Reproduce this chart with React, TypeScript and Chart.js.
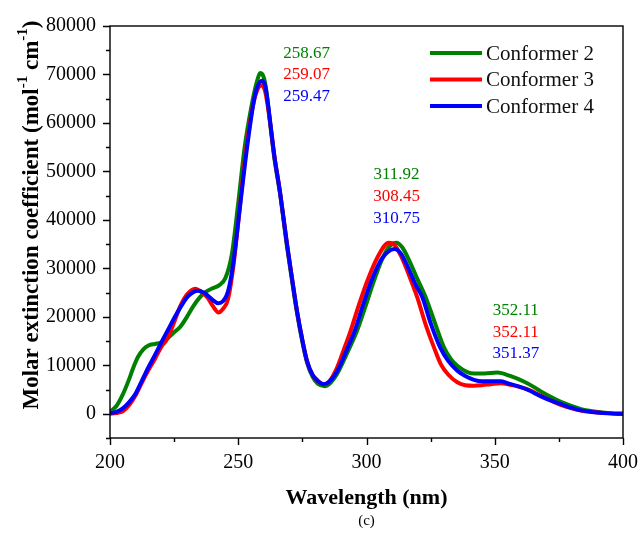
import React, { useEffect, useRef } from "react";
import { Chart, registerables } from "chart.js";

Chart.register(...registerables);

// ---------- data ----------
const seriesLabels = ["Conformer 2", "Conformer 3", "Conformer 4"];
const seriesColors = ["#008000", "#ff0000", "#0000ff"];

const wavelength2 = [200, 202.5, 205, 207.5, 209, 211, 213, 215, 217.5, 220, 222.5, 225, 227.5, 230, 232.5, 235, 237.5, 240, 242.5, 245, 247.5, 250, 252.5, 255, 257, 258.7, 260, 261, 262.5, 264, 266.4, 269, 271, 272.9, 275, 276.8, 279, 281, 283.7, 286, 288.5, 292, 296.3, 299.5, 302.9, 306, 309, 311.7, 314, 316.5, 319.5, 323.1, 326.5, 330.2, 333, 335.4, 339.3, 342, 346, 351, 356, 361.5, 365, 368, 371, 374.5, 378, 381, 384, 387.5, 392, 396, 400];
const epsilon2 = [400, 1600, 4000, 7200, 9400, 11800, 13300, 14100, 14400, 14700, 15600, 16800, 18000, 20000, 22200, 24000, 25200, 25900, 26500, 28000, 32900, 43500, 55000, 63000, 68000, 70300, 69300, 66500, 59500, 53000, 45000, 34500, 27300, 20800, 14800, 10600, 7600, 6200, 5700, 6400, 8200, 12000, 17100, 22000, 27400, 31800, 34600, 35300, 34300, 31800, 28200, 24000, 19000, 13700, 11200, 9900, 8600, 8300, 8300, 8500, 7800, 6600, 5600, 4600, 3700, 2800, 2000, 1400, 900, 550, 250, 80, 0];

const wavelength3 = [200, 202.5, 205, 207.5, 210, 212.5, 215, 217.5, 220, 222.5, 225, 227.5, 230, 233.2, 236, 238, 240, 242.3, 244, 246, 248, 250, 252.5, 255, 257, 259.1, 260.5, 261.5, 262.5, 264, 266.4, 269, 271, 272.9, 275, 276.8, 279, 281, 283.3, 285.5, 288.5, 291, 293.8, 297, 300.3, 304.5, 308.7, 311, 313.5, 316.5, 319.8, 323, 326.3, 329, 332, 335.4, 338.5, 341.9, 345, 348.4, 352.3, 356, 360, 364, 368, 372, 376, 380, 384, 390, 395, 400];
const epsilon3 = [0, 150, 500, 1800, 3800, 6500, 9000, 11300, 13800, 15600, 18900, 22300, 24600, 25800, 25000, 24000, 22300, 20900, 21600, 23600, 30000, 39500, 52000, 61500, 66200, 67800, 66500, 63500, 59800, 53500, 45300, 35000, 27800, 21200, 15200, 10900, 8000, 6800, 6100, 6700, 9500, 13000, 17100, 22400, 27400, 32500, 35300, 34800, 32500, 28700, 24000, 18500, 13700, 10200, 8000, 6500, 5900, 5800, 5900, 6100, 6300, 6000, 5500, 4800, 3700, 2700, 1800, 1100, 600, 250, 80, 0];

const wavelength4 = [200, 202.5, 205, 207.5, 210, 212.5, 215, 217.5, 220, 222.5, 225, 227.5, 230.5, 234.4, 236.5, 238.3, 240, 242.2, 244, 246, 248, 250.5, 253.6, 256.6, 259.3, 260.5, 261.5, 262.5, 264, 266.4, 269, 271, 272.9, 275, 276.8, 279, 281, 283.3, 285.5, 288.5, 292, 295.4, 298.5, 301.9, 306, 310.9, 313.5, 316.5, 319, 321.8, 325, 328.7, 332, 335.4, 338.5, 341.9, 345, 348.4, 352.3, 355, 359, 363, 368, 372, 375.8, 380, 383.6, 390, 395, 400];
const epsilon4 = [100, 400, 1100, 2400, 4200, 6900, 9600, 12100, 14700, 17200, 19700, 22000, 24300, 25400, 25000, 24300, 23500, 22800, 23200, 25200, 30900, 41900, 55600, 65900, 68700, 67600, 64300, 60000, 53500, 45300, 35000, 27800, 21200, 15200, 10900, 8000, 6800, 6100, 6600, 8700, 12800, 17100, 22200, 27400, 32000, 34000, 33000, 29800, 26800, 24000, 18700, 13700, 10800, 8900, 7800, 7000, 6700, 6700, 6700, 6300, 5700, 4900, 3600, 2700, 2000, 1200, 700, 250, 80, 0];

// peak annotation labels (one row per conformer), anchored at [wavelength, epsilon]
const peakLabels2 = ["258.67", "311.92", "352.11"];
const peakLabels3 = ["259.07", "308.45", "352.11"];
const peakLabels4 = ["259.47", "310.75", "351.37"];
const peakAnchorWavelength = [276.7, 311.7, 358.2];
const peakAnchorEpsilon = [74400, 49300, 21300];

const xTickValues = [200, 250, 300, 350, 400];
const xMinorTickValues = [225, 275, 325, 375];
const yTickValues = [0, 10000, 20000, 30000, 40000, 50000, 60000, 70000, 80000];
const yMinorTickValues = [-5000, 5000, 15000, 25000, 35000, 45000, 55000, 65000, 75000];

const xTitle = "Wavelength (nm)";
const yTitleParts = ["Molar extinction coefficient (mol", "-1", " cm", "-1", ")"];
const caption = "(c)";

const SERIF = '"Liberation Serif", "Times New Roman", serif';

const decorPlugin = {
  id: "decor",
  afterDatasetsDraw(chart: any) {
    const { ctx, scales } = chart;
    const x = scales.x;
    const y = scales.y;
    ctx.save();
    ctx.font = `17px ${SERIF}`;
    ctx.textAlign = "center";
    ctx.textBaseline = "middle";
    const rows = [peakLabels2, peakLabels3, peakLabels4];
    for (let g = 0; g < peakAnchorWavelength.length; g++) {
      const px = x.getPixelForValue(peakAnchorWavelength[g]);
      const py = y.getPixelForValue(peakAnchorEpsilon[g]);
      rows.forEach((row, r) => {
        ctx.fillStyle = seriesColors[r];
        ctx.fillText(row[g], px, py + r * 21.7);
      });
    }
    ctx.restore();
  },
  afterDraw(chart: any) {
    const { ctx, chartArea, scales } = chart;
    const { left, right, top, bottom } = chartArea;
    const x = scales.x;
    const y = scales.y;
    ctx.save();
    ctx.strokeStyle = "#000";
    ctx.lineWidth = 1.4;
    ctx.strokeRect(left, top, right - left, bottom - top);
    ctx.beginPath();
    xTickValues.forEach((v) => {
      const p = Math.round(x.getPixelForValue(v)) + 0.5;
      ctx.moveTo(p, bottom);
      ctx.lineTo(p, bottom + 7);
    });
    xMinorTickValues.forEach((v) => {
      const p = Math.round(x.getPixelForValue(v)) + 0.5;
      ctx.moveTo(p, bottom);
      ctx.lineTo(p, bottom + 4);
    });
    yTickValues.forEach((v) => {
      const p = Math.round(y.getPixelForValue(v)) + 0.5;
      ctx.moveTo(left, p);
      ctx.lineTo(left - 7, p);
    });
    yMinorTickValues.forEach((v) => {
      const p = Math.round(y.getPixelForValue(v)) + 0.5;
      ctx.moveTo(left, p);
      ctx.lineTo(left - 4, p);
    });
    ctx.stroke();

    // legend
    const legendRowsY = [53, 79.5, 106];
    seriesLabels.forEach((label, i) => {
      ctx.strokeStyle = seriesColors[i];
      ctx.lineWidth = 4;
      ctx.beginPath();
      ctx.moveTo(430, legendRowsY[i]);
      ctx.lineTo(482, legendRowsY[i]);
      ctx.stroke();
      ctx.fillStyle = "#111";
      ctx.font = `21px ${SERIF}`;
      ctx.textAlign = "left";
      ctx.textBaseline = "middle";
      ctx.fillText(label, 486, legendRowsY[i] + 1);
    });

    // x title and caption
    ctx.fillStyle = "#000";
    ctx.textAlign = "center";
    ctx.textBaseline = "middle";
    ctx.font = `bold 22px ${SERIF}`;
    ctx.fillText(xTitle, (left + right) / 2, 498);
    ctx.font = `15px ${SERIF}`;
    ctx.fillText(caption, (left + right) / 2, 521);

    // y title with superscripts
    const big = `bold 23px ${SERIF}`;
    const small = `bold 15px ${SERIF}`;
    let total = 0;
    const widths = yTitleParts.map((t, i) => {
      ctx.font = i % 2 === 1 ? small : big;
      const w = ctx.measureText(t).width;
      total += w;
      return w;
    });
    ctx.translate(32, 215);
    ctx.rotate(-Math.PI / 2);
    ctx.textAlign = "left";
    let cx = -total / 2;
    yTitleParts.forEach((t, i) => {
      const sup = i % 2 === 1;
      ctx.font = sup ? small : big;
      ctx.fillText(t, cx, sup ? -9 : 0);
      cx += widths[i];
    });
    ctx.restore();
  },
};

export default function App() {
  const canvasRef = useRef<HTMLCanvasElement | null>(null);

  useEffect(() => {
    if (!canvasRef.current) return;
    const series = [
      [wavelength2, epsilon2],
      [wavelength3, epsilon3],
      [wavelength4, epsilon4],
    ];
    const chart = new Chart(canvasRef.current, {
      type: "line",
      data: {
        datasets: series.map(([wl, eps], i) => ({
          label: seriesLabels[i],
          data: wl.map((w, k) => ({ x: w, y: eps[k] })),
          borderColor: seriesColors[i],
          backgroundColor: seriesColors[i],
          borderWidth: 4,
          pointRadius: 0,
          fill: false,
          cubicInterpolationMode: "monotone" as const,
          order: 3 - i,
        })),
      },
      options: {
        animation: false,
        responsive: false,
        layout: { padding: { left: 0, top: 26, right: 17, bottom: 0 } },
        plugins: {
          legend: { display: false },
          tooltip: { enabled: false },
          title: { display: false },
        },
        scales: {
          x: {
            type: "linear",
            min: 200,
            max: 400,
            grid: { display: false, drawTicks: false, tickLength: 0 },
            border: { display: false },
            afterBuildTicks: (s: any) => {
              s.ticks = xTickValues.map((v) => ({ value: v }));
            },
            afterFit: (s: any) => {
              s.height = 98;
              s.paddingLeft = 0;
              s.paddingRight = 0;
            },
            ticks: {
              padding: 13,
              color: "#000",
              maxRotation: 0,
              font: { family: SERIF, size: 20 },
              callback: (v: any) => String(v),
            },
          },
          y: {
            type: "linear",
            min: -5000,
            max: 80000,
            grid: { display: false, drawTicks: false, tickLength: 0 },
            border: { display: false },
            afterBuildTicks: (s: any) => {
              s.ticks = yTickValues.map((v) => ({ value: v }));
            },
            afterFit: (s: any) => {
              s.width = 110;
              s.paddingTop = 0;
              s.paddingBottom = 0;
            },
            ticks: {
              padding: 14,
              color: "#000",
              font: { family: SERIF, size: 20 },
              callback: (v: any) => String(v),
            },
          },
        },
      },
      plugins: [decorPlugin],
    });
    return () => chart.destroy();
  }, []);

  return (
    <div style={{ position: "absolute", left: 0, top: 0, width: 640, height: 536, background: "#fff" }}>
      <canvas ref={canvasRef} width={640} height={536} style={{ display: "block" }} />
    </div>
  );
}
